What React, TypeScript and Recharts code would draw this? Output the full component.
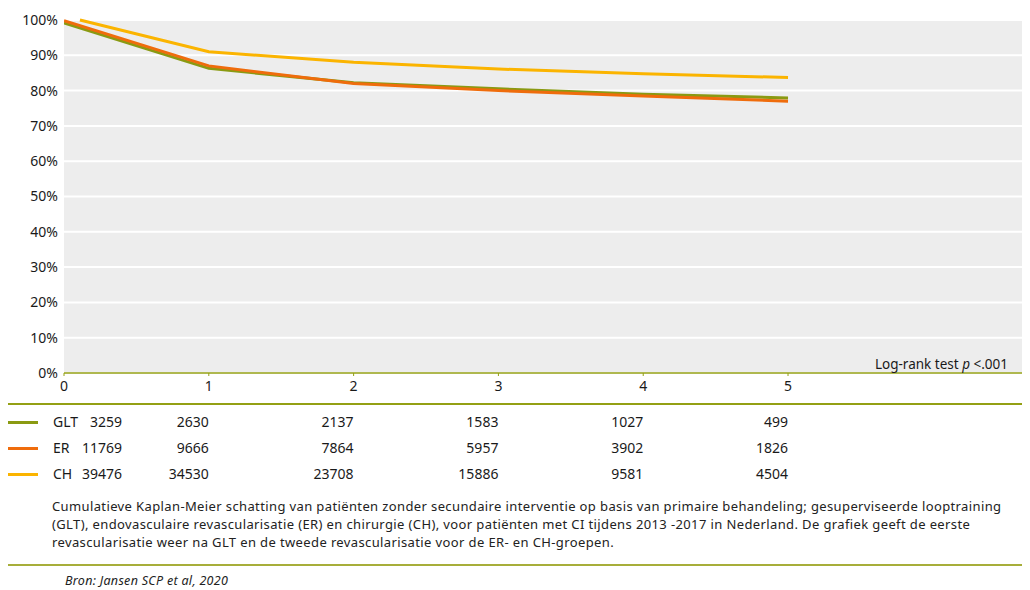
import { LineChart, Line, XAxis, YAxis, CartesianGrid } from "recharts";

const years = [0, 1, 2, 3, 4, 5];
const gltSurvival = [0.992, 0.863, 0.822, 0.805, 0.79, 0.779];
const erSurvival = [0.998, 0.87, 0.82, 0.8, 0.785, 0.77];
const chYears = [0.11, 1, 2, 3, 4, 5];
const chSurvival = [1.0, 0.91, 0.88, 0.861, 0.848, 0.837];

const yTicks = [0, 0.1, 0.2, 0.3, 0.4, 0.5, 0.6, 0.7, 0.8, 0.9, 1];

const groups = ["GLT", "ER", "CH"];
const gltAtRisk = [3259, 2630, 2137, 1583, 1027, 499];
const erAtRisk = [11769, 9666, 7864, 5957, 3902, 1826];
const chAtRisk = [39476, 34530, 23708, 15886, 9581, 4504];

const OLIVE = "#94a014";
const COLORS = { GLT: "#8a9a12", ER: "#ef6c0c", CH: "#fbb400" };
const FONT = "'Noto Sans', 'Open Sans', sans-serif";

const W = 1022;
const PLOT_LEFT = 56;
const X_MAX = 6.671;
const pxPerYear = (W - PLOT_LEFT) / X_MAX;

const toPoints = (xs: number[], ys: number[]) => xs.map((t, i) => ({ t, s: ys[i] }));

const captionLines = [
  "Cumulatieve Kaplan-Meier schatting van patiënten zonder secundaire interventie op basis van primaire behandeling; gesuperviseerde looptraining",
  "(GLT), endovasculaire revascularisatie (ER) en chirurgie (CH), voor patiënten met CI tijdens 2013 -2017 in Nederland. De grafiek geeft de eerste",
  "revascularisatie weer na GLT en de tweede revascularisatie voor de ER- en CH-groepen.",
];

export default function App() {
  const atRisk = [gltAtRisk, erAtRisk, chAtRisk];
  return (
    <div
      style={{
        position: "relative",
        width: W,
        height: 582,
        fontFamily: FONT,
        color: "#1a1a1a",
      }}
    >
      <style>{"body{margin:8px 8px 0 8px}"}</style>
      <LineChart width={W} height={395} margin={{ top: 12, right: 0, left: 0, bottom: 0 }}>
        <CartesianGrid fill="#ededed" stroke="#ffffff" strokeWidth={2} vertical={false} />
        <XAxis
          type="number"
          dataKey="t"
          domain={[0, X_MAX]}
          ticks={years}
          allowDataOverflow
          height={30}
          tickSize={3}
          tickMargin={5}
          axisLine={{ stroke: OLIVE, strokeWidth: 1.5 }}
          tickLine={{ stroke: OLIVE }}
          tick={{ fontSize: 14, fill: "#1a1a1a", fontFamily: FONT }}
        />
        <YAxis
          type="number"
          domain={[0, 1]}
          ticks={yTicks}
          width={56}
          tickSize={0}
          tickMargin={6}
          axisLine={false}
          tickLine={false}
          tickFormatter={(v: number) => `${Math.round(v * 100)}%`}
          tick={{ fontSize: 14, fill: "#1a1a1a", fontFamily: FONT }}
        />
        <Line
          data={toPoints(years, gltSurvival)}
          dataKey="s"
          type="linear"
          stroke={COLORS.GLT}
          strokeWidth={3}
          dot={false}
          isAnimationActive={false}
        />
        <Line
          data={toPoints(years, erSurvival)}
          dataKey="s"
          type="linear"
          stroke={COLORS.ER}
          strokeWidth={3}
          dot={false}
          isAnimationActive={false}
        />
        <Line
          data={toPoints(chYears, chSurvival)}
          dataKey="s"
          type="linear"
          stroke={COLORS.CH}
          strokeWidth={3}
          dot={false}
          isAnimationActive={false}
        />
      </LineChart>

      <div
        style={{
          position: "absolute",
          right: 22,
          top: 347,
          fontSize: 13.5,
          lineHeight: "18px",
        }}
      >
        Log-rank test <i>p</i> &lt;.001
      </div>

      <div style={{ position: "absolute", left: 0, top: 395, width: W, height: 1.5, background: OLIVE }} />

      {groups.map((g, r) => (
        <div key={g} style={{ position: "absolute", left: 0, top: 401 + r * 26, width: W, height: 26 }}>
          <div
            style={{
              position: "absolute",
              left: 0,
              top: 12,
              width: 30,
              height: 3,
              background: COLORS[g as keyof typeof COLORS],
            }}
          />
          <div style={{ position: "absolute", left: 45, top: 0, fontSize: 14, lineHeight: "26px" }}>{g}</div>
          {atRisk[r].map((n, i) => {
            const right = i === 0 ? 114 : PLOT_LEFT + years[i] * pxPerYear;
            return (
              <div
                key={i}
                style={{
                  position: "absolute",
                  left: right - 80,
                  width: 80,
                  textAlign: "right",
                  top: 0,
                  fontSize: 14,
                  lineHeight: "26px",
                }}
              >
                {n}
              </div>
            );
          })}
        </div>
      ))}

      <div
        style={{
          position: "absolute",
          left: 44,
          top: 489,
          fontSize: 13,
          letterSpacing: 0.38,
          lineHeight: "18px",
          whiteSpace: "nowrap",
          color: "#222",
        }}
      >
        {captionLines.map((l, i) => (
          <div key={i}>{l}</div>
        ))}
      </div>

      <div style={{ position: "absolute", left: 0, top: 556, width: W, height: 2, background: "#a7ae3a" }} />

      <div
        style={{
          position: "absolute",
          left: 57,
          top: 565,
          fontSize: 12.5,
          letterSpacing: 0.3,
          lineHeight: "16px",
          fontStyle: "italic",
          color: "#222",
        }}
      >
        Bron: Jansen SCP et al, 2020
      </div>
    </div>
  );
}
